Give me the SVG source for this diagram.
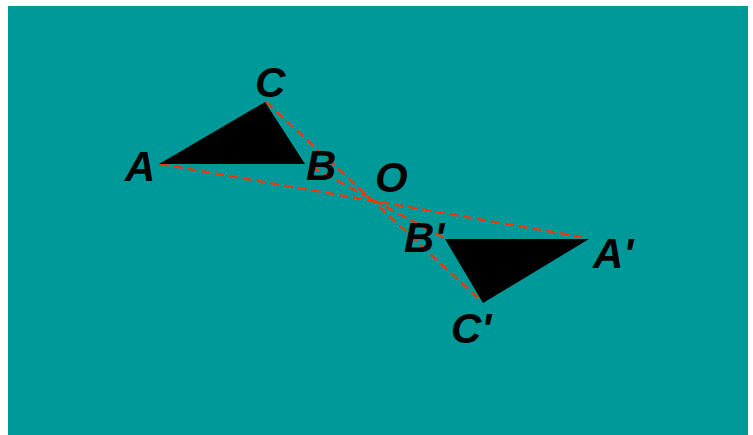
<svg xmlns="http://www.w3.org/2000/svg" width="753" height="435" viewBox="0 0 753 435">
<style>
.lbl{font-family:"Liberation Sans",Arial,sans-serif;font-weight:bold;font-style:italic;font-size:42px;fill:#000}
.dash{stroke:#ff3300;stroke-width:2.2;stroke-dasharray:9 5;fill:none}
.tri{fill:#000}
</style>
<rect x="0" y="0" width="753" height="435" fill="#ffffff"/>
<rect x="8" y="6" width="740" height="429" fill="#009999"/>
<g id="connectors">
<line class="dash" x1="160" y1="164" x2="582" y2="237"/>
<line class="dash" x1="312" y1="167" x2="444" y2="238"/>
<line class="dash" x1="266" y1="102" x2="479" y2="299"/>
</g>
<g id="triangle-ABC"><polygon class="tri" points="159,164 305,164 265,102"/></g>
<g id="triangle-A1B1C1"><polygon class="tri" points="445,239 589,239 483,303"/></g>
<g id="label-A"><text class="lbl" x="125" y="181">A</text></g>
<g id="label-B"><text class="lbl" x="306" y="180">B</text></g>
<g id="label-C"><text class="lbl" x="255" y="97">C</text></g>
<g id="label-O"><text class="lbl" x="375" y="192">O</text></g>
<g id="label-B1"><text class="lbl" x="404" y="252">B'</text></g>
<g id="label-A1"><text class="lbl" x="593" y="268">A'</text></g>
<g id="label-C1"><text class="lbl" x="451" y="343">C'</text></g>
</svg>
